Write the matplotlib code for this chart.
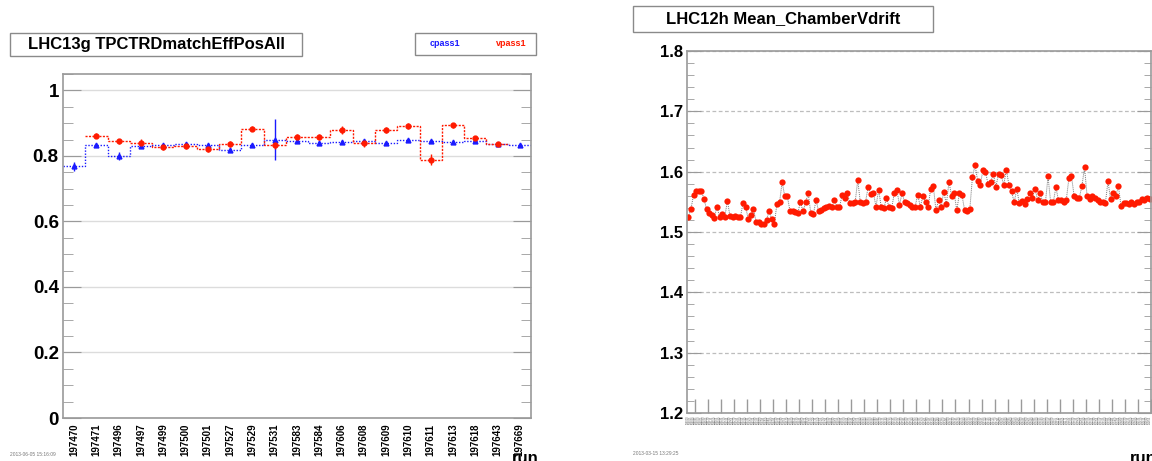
#!/usr/bin/env python3
"""
Two trending plots: LHC13g TPC-TRD matching efficiency and LHC12h chamber vdrift.
"""

import matplotlib
matplotlib.use('Agg')
import matplotlib.pyplot as plt
from matplotlib.ticker import MultipleLocator, FixedLocator
from matplotlib.patches import Rectangle
import numpy as np

plt.rcParams['font.family'] = ['Liberation Sans', 'DejaVu Sans']

# ----------------------------------------------------------------------------
# Data: LHC13g TPCTRDmatchEffPosAll
# ----------------------------------------------------------------------------
runs13g = ['197470', '197471', '197496', '197497', '197499', '197500', '197501',
           '197527', '197529', '197531', '197583', '197584', '197606', '197608',
           '197609', '197610', '197611', '197613', '197618', '197643', '197669']
cpass1 = [0.768, 0.833, 0.799, 0.830, 0.832, 0.836, 0.832, 0.817, 0.833, 0.850,
          0.844, 0.840, 0.842, 0.846, 0.838, 0.848, 0.844, 0.842, 0.846, 0.835, 0.834]
cpass1_err = [0.014, 0.006, 0.012, 0.006, 0.005, 0.005, 0.005, 0.006, 0.005, 0.062,
              0.005, 0.005, 0.005, 0.005, 0.005, 0.005, 0.005, 0.005, 0.005, 0.004, 0.004]
# vpass1 has no entry for the first and last run
vpass1 = [np.nan, 0.862, 0.844, 0.840, 0.826, 0.830, 0.820, 0.836, 0.883, 0.832,
          0.858, 0.858, 0.879, 0.838, 0.879, 0.891, 0.789, 0.893, 0.854, 0.835, np.nan]
vpass1_err = [0, 0.008, 0.008, 0.012, 0.008, 0.008, 0.008, 0.010, 0.008, 0.010,
              0.008, 0.008, 0.012, 0.012, 0.010, 0.008, 0.017, 0.008, 0.008, 0.006, 0]

# ----------------------------------------------------------------------------
# Data: LHC12h Mean_ChamberVdrift
# ----------------------------------------------------------------------------
vdrift = [1.525, 1.538, 1.561, 1.568, 1.568, 1.568, 1.555, 1.538, 1.531, 1.528,
          1.524, 1.542, 1.525, 1.530, 1.525, 1.552, 1.526, 1.525, 1.526, 1.525,
          1.525, 1.548, 1.542, 1.521, 1.528, 1.538, 1.517, 1.517, 1.514, 1.513,
          1.520, 1.535, 1.521, 1.513, 1.547, 1.549, 1.583, 1.559, 1.559, 1.535,
          1.534, 1.533, 1.531, 1.550, 1.534, 1.549, 1.564, 1.531, 1.530, 1.553,
          1.534, 1.536, 1.539, 1.542, 1.543, 1.541, 1.553, 1.542, 1.541, 1.561,
          1.557, 1.564, 1.548, 1.548, 1.549, 1.586, 1.549, 1.548, 1.550, 1.575,
          1.563, 1.565, 1.542, 1.570, 1.542, 1.539, 1.556, 1.542, 1.539, 1.564,
          1.570, 1.545, 1.564, 1.550, 1.548, 1.545, 1.542, 1.542, 1.562, 1.542,
          1.559, 1.550, 1.542, 1.572, 1.576, 1.536, 1.553, 1.542, 1.567, 1.546,
          1.583, 1.560, 1.564, 1.536, 1.564, 1.561, 1.536, 1.535, 1.538, 1.591,
          1.611, 1.585, 1.578, 1.602, 1.600, 1.579, 1.583, 1.596, 1.575, 1.596,
          1.594, 1.578, 1.603, 1.578, 1.568, 1.549, 1.571, 1.548, 1.552, 1.546,
          1.554, 1.564, 1.557, 1.572, 1.553, 1.564, 1.549, 1.549, 1.592, 1.549,
          1.549, 1.574, 1.553, 1.553, 1.549, 1.553, 1.589, 1.592, 1.560, 1.557,
          1.557, 1.576, 1.607, 1.559, 1.554, 1.559, 1.556, 1.553, 1.550, 1.549,
          1.548, 1.584, 1.554, 1.565, 1.560, 1.576, 1.543, 1.548, 1.548, 1.546,
          1.549, 1.546, 1.549, 1.550, 1.554, 1.553, 1.557, 1.554]
# run labels on this panel are unreadable in the original; placeholders only
runs12h = [str(189000 + 15 * i) for i in range(len(vdrift))]

RED = '#ff1a00'
BLUE = '#1a1aff'
FRAME = '#9a9a9a'

fig = plt.figure(figsize=(11.52, 4.61), dpi=100)
W, H = 1152, 461


def px_axes(x0, y0, x1, y1):
    return fig.add_axes([x0 / W, 1 - y1 / H, (x1 - x0) / W, (y1 - y0) / H])


def title_box(x0, y0, x1, y1, text, size):
    fig.patches.append(Rectangle((x0 / W, 1 - y1 / H), (x1 - x0) / W, (y1 - y0) / H,
                                 transform=fig.transFigure, facecolor='white',
                                 edgecolor='#8a8a8a', linewidth=1.0))
    fig.text((x0 + x1) / 2 / W, 1 - (y0 + y1) / 2 / H, text, ha='center', va='center',
             fontsize=size, fontweight='bold', color='black')


# ============================================================================
# Left panel
# ============================================================================
ax1 = px_axes(63, 74, 531, 418)
n = len(runs13g)
x = np.arange(n) + 0.5
edges = np.arange(n + 1)

ax1.stairs(cpass1, edges, color=BLUE, linestyle=(0, (1, 1.2)), linewidth=1.0, baseline=None)
ax1.stairs(vpass1[1:-1], edges[1:-1], color=RED, linestyle=(0, (1.5, 1)), linewidth=1.0,
           baseline=None)
ax1.errorbar(x, cpass1, yerr=cpass1_err, fmt='^', color=BLUE, markersize=3.5,
             elinewidth=1.0, capsize=0)
ax1.errorbar(x, vpass1, yerr=vpass1_err, fmt='o', color=RED, markersize=3.5,
             elinewidth=1.0, capsize=0)

ax1.set_xlim(0, n)
ax1.set_ylim(0, 1.05)
ax1.yaxis.set_minor_locator(MultipleLocator(0.05))
ax1.set_yticks([0, 0.2, 0.4, 0.6, 0.8, 1.0])
ax1.set_yticklabels(['0', '0.2', '0.4', '0.6', '0.8', '1'], fontsize=13.5, fontweight='bold')
ax1.set_xticks(x)
ax1.set_xticklabels(runs13g, rotation=90, fontsize=7, fontweight='bold')
ax1.tick_params(axis='x', length=0, pad=4)
ax1.tick_params(axis='y', which='major', direction='in', length=13, color=FRAME,
                right=True, pad=3)
ax1.tick_params(axis='y', which='minor', direction='in', length=7, color=FRAME, right=True)
ax1.grid(axis='y', color='#dcdcdc', linewidth=1.0)
ax1.set_axisbelow(True)
for s in ax1.spines.values():
    s.set_color(FRAME)
    s.set_linewidth(1.2)

title_box(10, 33, 302, 56, 'LHC13g TPCTRDmatchEffPosAll', 12)
fig.patches.append(Rectangle((415 / W, 1 - 55 / H), 121 / W, 22 / H,
                             transform=fig.transFigure, facecolor='white',
                             edgecolor='#8a8a8a', linewidth=1.0))
fig.text(445 / W, 1 - 43 / H, 'cpass1', color=BLUE, fontsize=6.5, fontweight='bold',
         ha='center', va='center')
fig.text(511 / W, 1 - 43 / H, 'vpass1', color=RED, fontsize=6.5, fontweight='bold',
         ha='center', va='center')
fig.text(10 / W, 1 - 454 / H, '2013-06-05 15:16:09', fontsize=3.5, color='#777777',
         va='center')
fig.text(512 / W, 1 - 466 / H, 'run', fontsize=12, fontweight='bold', va='bottom')

# ============================================================================
# Right panel
# ============================================================================
ax2 = px_axes(687, 51, 1151, 413)
m = len(vdrift)
xr = np.arange(m) + 0.5
ax2.plot(xr, vdrift, color='#777777', linestyle=(0, (1, 1)), linewidth=0.7)
ax2.plot(xr, vdrift, 'o', color=RED, markersize=4.5, markeredgewidth=0)

ax2.set_xlim(0, m)
ax2.set_ylim(1.2, 1.8)
ax2.set_yticks([1.2, 1.3, 1.4, 1.5, 1.6, 1.7, 1.8])
ax2.set_yticklabels(['1.2', '1.3', '1.4', '1.5', '1.6', '1.7', '1.8'], fontsize=12,
                    fontweight='bold')
ax2.yaxis.set_minor_locator(MultipleLocator(0.02))
ax2.set_xticks(xr)
ax2.set_xticklabels(runs12h, rotation=90, fontsize=1.8, color='#555555')
ax2.xaxis.set_minor_locator(FixedLocator(np.arange(0, m, 5) + 3))
ax2.tick_params(axis='x', which='major', length=0, pad=2)
ax2.tick_params(axis='x', which='minor', direction='in', length=10, color=FRAME, width=1.0)
ax2.tick_params(axis='y', which='major', direction='in', length=10, color=FRAME,
                right=True, pad=3)
ax2.tick_params(axis='y', which='minor', direction='in', length=5, color=FRAME, right=True)
ax2.grid(axis='y', color='#bdbdbd', linestyle=(0, (3, 2)), linewidth=0.9)
ax2.set_axisbelow(True)
for s in ax2.spines.values():
    s.set_color(FRAME)
    s.set_linewidth(1.2)

title_box(633, 6, 933, 32, 'LHC12h Mean_ChamberVdrift', 12)
fig.text(633 / W, 1 - 453 / H, '2013-03-15 13:29:25', fontsize=3.5, color='#777777',
         va='center')
fig.text(1130 / W, 1 - 466 / H, 'run', fontsize=12, fontweight='bold', va='bottom')

plt.savefig('out.png', dpi=100)
plt.close()
